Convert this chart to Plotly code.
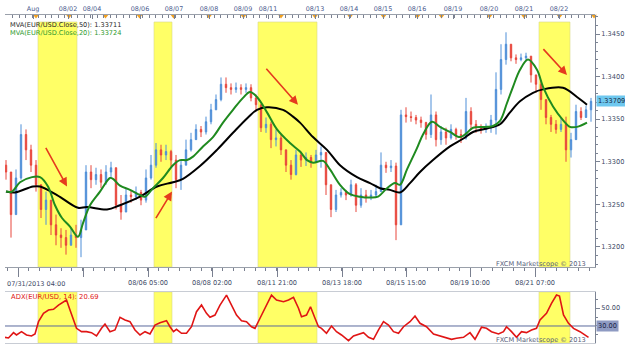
import plotly.graph_objects as go

# ---------------- data ----------------
FIRST_OPEN = 1.3296
CLOSE = [1.3288, 1.3238, 1.3281, 1.3332, 1.3314, 1.3296, 1.3273, 1.3244, 1.3255, 1.3226,
         1.3214, 1.3211, 1.3202, 1.3214, 1.3211, 1.3220, 1.3288, 1.3279, 1.3285, 1.3276,
         1.3288, 1.3293, 1.3249, 1.3241, 1.3261, 1.3259, 1.3264, 1.3255, 1.3281, 1.3296,
         1.3314, 1.3308, 1.3312, 1.3302, 1.3279, 1.3296, 1.3314, 1.3326, 1.3338, 1.3335,
         1.3347, 1.3361, 1.3373, 1.3391, 1.3387, 1.3385, 1.3387, 1.3385, 1.3387, 1.3375,
         1.3367, 1.3340, 1.3344, 1.3326, 1.3328, 1.3314, 1.3296, 1.3285, 1.3308, 1.3302,
         1.3305, 1.3299, 1.3308, 1.3311, 1.3273, 1.3244, 1.3261, 1.3264, 1.3261, 1.3273,
         1.3249, 1.3261, 1.3258, 1.3261, 1.3265, 1.3296, 1.3293, 1.3295, 1.3226, 1.3355,
         1.3353, 1.3352, 1.3349, 1.3346, 1.3332, 1.3355, 1.3326, 1.3335, 1.3328, 1.3338,
         1.3332, 1.3328, 1.3359, 1.3344, 1.3340, 1.3338, 1.3340, 1.3349, 1.3385, 1.3420,
         1.3438, 1.3422, 1.3420, 1.3422, 1.3424, 1.3402, 1.3391, 1.3373, 1.3352, 1.3344,
         1.3338, 1.3344, 1.3314, 1.3326, 1.3359, 1.3352, 1.3361, 1.3371]
HIGH = [1.3302, 1.3285, 1.3291, 1.3344, 1.3338, 1.3320, 1.3302, 1.3273, 1.3265, 1.3255,
        1.3238, 1.3222, 1.3220, 1.3222, 1.3226, 1.3232, 1.3296, 1.3296, 1.3293, 1.3291,
        1.3296, 1.3300, 1.3293, 1.3261, 1.3269, 1.3267, 1.3271, 1.3267, 1.3291, 1.3308,
        1.3322, 1.3320, 1.3320, 1.3314, 1.3308, 1.3302, 1.3326, 1.3334, 1.3344, 1.3342,
        1.3353, 1.3368, 1.3379, 1.3399, 1.3399, 1.3392, 1.3393, 1.3391, 1.3392, 1.3391,
        1.3379, 1.3367, 1.3352, 1.3347, 1.3338, 1.3332, 1.3314, 1.3302, 1.3314, 1.3312,
        1.3311, 1.3308, 1.3314, 1.3318, 1.3302, 1.3273, 1.3267, 1.3269, 1.3267, 1.3279,
        1.3275, 1.3269, 1.3267, 1.3267, 1.3273, 1.3311, 1.3300, 1.3302, 1.3299, 1.3361,
        1.3364, 1.3359, 1.3355, 1.3353, 1.3347, 1.3379, 1.3359, 1.3342, 1.3340, 1.3344,
        1.3340, 1.3338, 1.3375, 1.3364, 1.3349, 1.3344, 1.3345, 1.3355, 1.3405, 1.3438,
        1.3452, 1.3438, 1.3426, 1.3427, 1.3428, 1.3420, 1.3402, 1.3396, 1.3373, 1.3355,
        1.3349, 1.3352, 1.3353, 1.3334, 1.3367, 1.3364, 1.3366, 1.3375]
LOW = [1.3279, 1.3211, 1.3238, 1.3279, 1.3302, 1.3288, 1.3265, 1.3234, 1.3226, 1.3214,
       1.3202, 1.3199, 1.3191, 1.3202, 1.3199, 1.3188, 1.3220, 1.3269, 1.3273, 1.3269,
       1.3273, 1.3281, 1.3244, 1.3232, 1.3241, 1.3252, 1.3255, 1.3249, 1.3252, 1.3279,
       1.3293, 1.3300, 1.3302, 1.3294, 1.3269, 1.3267, 1.3296, 1.3312, 1.3326, 1.3329,
       1.3332, 1.3344, 1.3361, 1.3371, 1.3381, 1.3379, 1.3381, 1.3379, 1.3381, 1.3371,
       1.3359, 1.3335, 1.3334, 1.3316, 1.3318, 1.3308, 1.3288, 1.3279, 1.3284, 1.3294,
       1.3295, 1.3293, 1.3300, 1.3293, 1.3261, 1.3235, 1.3241, 1.3258, 1.3255, 1.3259,
       1.3241, 1.3246, 1.3252, 1.3255, 1.3258, 1.3265, 1.3287, 1.3288, 1.3208, 1.3226,
       1.3346, 1.3347, 1.3344, 1.3340, 1.3326, 1.3328, 1.3318, 1.3320, 1.3320, 1.3326,
       1.3326, 1.3322, 1.3326, 1.3338, 1.3334, 1.3333, 1.3334, 1.3334, 1.3332, 1.3379,
       1.3414, 1.3418, 1.3415, 1.3418, 1.3418, 1.3393, 1.3381, 1.3361, 1.3344, 1.3335,
       1.3333, 1.3335, 1.3300, 1.3305, 1.3326, 1.3349, 1.3352, 1.3347]

MA20_X = [0, 1.2, 2.8, 5.2, 6.8, 8.4, 9.8, 11.2, 12.8, 14.4, 15.4, 16.8, 18.8, 20.8, 21.4,
          22.8, 24.8, 26.8, 27.8, 29.4, 31.4, 33.4, 34.8, 36.2, 37.4, 39.4, 41.4, 43.4, 45.4,
          47.4, 48.8, 50.2, 52.2, 54.2, 56.8, 58.8, 60.2, 61.4, 63.4, 64.8, 66.8, 68.8, 70.8,
          72.8, 74.4, 76.2, 77.8, 78.8, 80.2, 82.2, 83.4, 85.2, 86.8, 88.8, 90.8, 92.2, 93.4,
          96.2, 97.4, 98.8, 100.2, 101.4, 102.8, 104.4, 106.2, 107.4, 109.4, 111.4, 112.8,
          114.2, 116.2]
MA20_V = [1.3265, 1.3265, 1.3276, 1.3282, 1.3282, 1.3271, 1.3249, 1.3234, 1.3224, 1.3212,
          1.3228, 1.3249, 1.3265, 1.3281, 1.3280, 1.3272, 1.3267, 1.3261, 1.3259, 1.3269,
          1.3281, 1.3296, 1.3302, 1.3302, 1.3306, 1.3318, 1.3329, 1.3346, 1.3361, 1.3375,
          1.3382, 1.3376, 1.3358, 1.3338, 1.3322, 1.3312, 1.3302, 1.3299, 1.3301, 1.3291,
          1.3273, 1.3262, 1.3259, 1.3258, 1.3259, 1.3269, 1.3275, 1.3273, 1.3291, 1.3316,
          1.3332, 1.3347, 1.3341, 1.3335, 1.3329, 1.3334, 1.3340, 1.3341, 1.3342, 1.3348,
          1.3369, 1.3388, 1.3408, 1.3420, 1.3408, 1.3388, 1.3365, 1.3349, 1.3341, 1.3341,
          1.3346]
MA50_X = [0, 1.8, 5.4, 6.8, 10.2, 14.4, 16.2, 20.2, 22.8, 26.8, 30.2, 33.4, 35.4, 38.8,
          42.2, 45.4, 48.4, 50.2, 52.2, 55.4, 57.4, 58.8, 61.4, 64.2, 66.8, 70.2, 72.8, 74.8,
          76.8, 78.8, 80.8, 82.8, 85.4, 88.8, 91.4, 93.4, 96.2, 98.8, 100.8, 102.8, 105.4,
          107.4, 111.4, 114.2, 116.2]
MA50_V = [1.3265, 1.3264, 1.3271, 1.3271, 1.3261, 1.3246, 1.3247, 1.3244, 1.3249, 1.3259,
          1.3271, 1.3276, 1.3280, 1.3295, 1.3314, 1.3334, 1.3352, 1.3361, 1.3364, 1.3361,
          1.3353, 1.3346, 1.3329, 1.3314, 1.3296, 1.3282, 1.3275, 1.3269, 1.3267, 1.3264,
          1.3275, 1.3288, 1.3302, 1.3318, 1.3327, 1.3335, 1.3339, 1.3344, 1.3358, 1.3371,
          1.3381, 1.3385, 1.3387, 1.3376, 1.3367]

ADX_X = [-0.2, 0.5, 1.5, 2.1, 3.1, 4.1, 5.1, 5.8, 6.5, 7.5, 8.5, 9.5, 10.5, 11.5, 12.1, 12.8,
         13.5, 14.1, 15.1, 16.1, 17.1, 18.1, 19.1, 19.8, 20.8, 21.8, 22.8, 23.8, 24.8, 25.8,
         26.8, 27.8, 28.8, 29.8, 30.8, 32.1, 32.8, 33.5, 34.1, 35.1, 36.1, 37.1, 38.1, 39.1,
         40.1, 40.8, 41.8, 42.8, 44.1, 45.1, 46.1, 47.1, 48.1, 49.1, 49.8, 50.8, 52.1, 53.1,
         54.1, 55.5, 56.5, 57.5, 58.5, 59.1, 60.1, 60.9, 61.8, 62.5, 63.1, 64.1, 65.1, 66.1,
         67.1, 68.5, 69.5, 70.5, 71.5, 72.5, 73.5, 74.5, 75.5, 76.5, 77.5, 78.5, 79.5, 80.8,
         81.8, 82.8, 84.1, 85.5, 86.8, 88.1, 89.1, 90.1, 91.5, 92.8, 93.8, 95.1, 96.1, 97.1,
         98.5, 99.5, 100.1, 101.1, 102.1, 103.1, 104.1, 105.1, 106.1, 106.8, 108.1, 109.1,
         110.1, 110.7, 111.5, 112.5, 113.5, 114.8, 116.1, 116.5]
ADX_V = [17.4, 16.7, 22.6, 20.0, 23.7, 20.0, 18.9, 21.1, 34.8, 44.1, 47.8, 48.6, 53.3, 57.0,
         58.9, 47.8, 36.7, 27.4, 23.7, 23.7, 22.6, 18.9, 27.4, 32.2, 23.7, 25.6, 39.7, 36.7,
         34.8, 25.6, 20.0, 23.7, 21.1, 31.1, 33.7, 35.9, 29.2, 23.7, 26.3, 21.9, 21.9, 29.2,
         45.9, 53.3, 44.1, 39.7, 42.2, 53.3, 64.4, 53.3, 42.2, 35.9, 34.8, 29.2, 27.4, 38.6,
         53.3, 64.4, 58.9, 57.0, 58.9, 61.9, 49.7, 40.3, 42.2, 51.4, 38.6, 29.2, 27.4, 21.9,
         30.0, 23.7, 20.0, 13.7, 18.9, 21.1, 22.6, 17.4, 15.2, 25.6, 34.8, 31.1, 23.7, 21.9,
         29.2, 34.8, 41.1, 33.0, 29.2, 21.1, 18.9, 17.4, 15.2, 16.3, 17.4, 22.6, 15.2, 28.6,
         27.4, 23.7, 21.1, 23.7, 29.2, 23.7, 17.4, 23.7, 22.6, 25.6, 27.4, 36.7, 44.1, 55.2,
         64.4, 63.3, 42.2, 33.0, 27.4, 23.7, 18.9, 17.4]
ADX_LEVEL = 30

# highlighted periods (bar index start, end)
HIGHLIGHTS = [(6.4, 14.2), (29.6, 33.2), (50.4, 62.2), (106.6, 112.8)]
# arrows: (tail x, tail price, head x, head price)
ARROWS = [(7.8, 1.3318, 12.2, 1.3271), (29.8, 1.3232, 33.2, 1.3265),
          (51.8, 1.3411, 58.4, 1.3367), (107.2, 1.3434, 112.2, 1.3402)]

TOP_TICKS = [5.4, 12.4, 17.2, 26.8, 33.6, 40.6, 47.4, 52.4, 61.8, 68.6, 75.4, 82.2, 89.4,
             96.6, 103.6, 110.6]
TOP_LABELS = ["Aug", "08/02", "08/04", "08/06", "08/07", "08/08", "08/09", "08/11", "08/13",
              "08/14", "08/15", "08/16", "08/19", "08/20", "08/21", "08/22"]
DAY_MARKS = [6.0, 12.6, 19.9, 26.7, 33.5, 40.6, 47.5, 55.0, 61.8, 68.8, 75.5, 82.3, 87.1,
             96.7, 103.6, 110.7, 117.6]
BOTTOM_TICKS = [2.4, 15.4, 28.4, 41.2, 54.2, 67.2, 80.0, 92.8, 105.8]
BOTTOM_LABELS = ["", "", "08/06 05:00", "08/08 02:00", "08/11 21:00", "08/13 18:00",
                 "08/15 15:00", "08/19 10:00", "08/21 07:00"]
FIRST_LABEL = "07/31/2013 04:00"
LAST_PRICE = 1.33709

# ---------------- build ----------------
n = len(CLOSE)
idx = list(range(n))
OPEN = [FIRST_OPEN] + CLOSE[:-1]
hi = [max(h, o, c) for h, o, c in zip(HIGH, OPEN, CLOSE)]
lo = [min(l, o, c) for l, o, c in zip(LOW, OPEN, CLOSE)]

UP = "#4f8fd8"
DN = "#e8473c"
FONT = "DejaVu Sans"
XR = [-0.2, 117.8]
XD = [0.008, 0.952]
YR = [1.31765, 1.34723]
MAIN_D = [0.2350, 0.9570]
ADX_D = [0.0172, 0.1633]

fig = go.Figure()
fig.add_trace(go.Candlestick(
    x=idx, open=OPEN, high=hi, low=lo, close=CLOSE,
    increasing=dict(line=dict(color=UP, width=1), fillcolor=UP),
    decreasing=dict(line=dict(color=DN, width=1), fillcolor=DN),
    whiskerwidth=0, showlegend=False, hoverinfo="skip"))
fig.add_trace(go.Scatter(x=MA50_X, y=MA50_V, mode="lines", line=dict(color="#000000", width=2, shape="spline"),
                         showlegend=False, hoverinfo="skip"))
fig.add_trace(go.Scatter(x=MA20_X, y=MA20_V, mode="lines", line=dict(color="#1f8a1f", width=2, shape="spline"),
                         showlegend=False, hoverinfo="skip"))
fig.add_trace(go.Scatter(x=XR, y=[ADX_LEVEL, ADX_LEVEL], mode="lines", xaxis="x2", yaxis="y2",
                         line=dict(color="#5b6a9c", width=1), showlegend=False, hoverinfo="skip"))
fig.add_trace(go.Scatter(x=ADX_X, y=ADX_V, mode="lines", xaxis="x2", yaxis="y2",
                         line=dict(color="#e01515", width=1.6), showlegend=False, hoverinfo="skip"))
# day markers on the top date axis (sitting on the axis line)
fig.add_trace(go.Scatter(x=DAY_MARKS, y=[YR[1] - 0.00012] * len(DAY_MARKS), mode="markers",
                         xaxis="x3", yaxis="y", cliponaxis=False,
                         marker=dict(symbol="triangle-down", size=5, color="#f0a020", line=dict(width=0)),
                         showlegend=False, hoverinfo="skip"))

shapes = []
for a, b in HIGHLIGHTS:
    for y0, y1 in [(MAIN_D[0], 0.937), ADX_D]:
        shapes.append(dict(type="rect", xref="x", yref="paper", x0=a, x1=b, y0=y0, y1=y1,
                           fillcolor="#ffff66", line=dict(width=0.6, color="#d9d98a"), layer="below"))

ann = []
for tx, ty, hx, hy in ARROWS:
    ann.append(dict(x=hx, y=hy, ax=tx, ay=ty, xref="x", yref="y", axref="x", ayref="y",
                    showarrow=True, arrowhead=2, arrowsize=1.1, arrowwidth=1.6,
                    arrowcolor="#e53a1e", text=""))
ann += [
    dict(x=0.013, y=0.929, xref="paper", yref="paper", xanchor="left", yanchor="middle", showarrow=False,
         text="MVA(EUR/USD.Close,50): 1.33711", font=dict(size=6.6, color="#2a2a2a", family=FONT)),
    dict(x=0.013, y=0.906, xref="paper", yref="paper", xanchor="left", yanchor="middle", showarrow=False,
         text="MVA(EUR/USD.Close,20): 1.33724", font=dict(size=6.6, color="#2e9a2e", family=FONT)),
    dict(x=0.015, y=0.149, xref="paper", yref="paper", xanchor="left", yanchor="middle", showarrow=False,
         text="ADX(EUR/USD, 14): 20.69", font=dict(size=6.8, color="#e01515", family=FONT)),
    dict(x=0.940, y=0.243, xref="paper", yref="paper", xanchor="right", yanchor="middle", showarrow=False,
         text="FXCM Marketscope © 2013", font=dict(size=6.6, color="#55607a", family=FONT)),
    dict(x=0.940, y=0.026, xref="paper", yref="paper", xanchor="right", yanchor="middle", showarrow=False,
         text="FXCM Marketscope © 2013", font=dict(size=6.6, color="#55607a", family=FONT)),
    dict(x=0.008, y=0.186, xref="paper", yref="paper", xanchor="left", yanchor="middle", showarrow=False,
         text=FIRST_LABEL, font=dict(size=6.5, color="#3d4a66", family=FONT)),
    dict(x=0.953, y=LAST_PRICE, xref="paper", yref="y", xanchor="left", yanchor="middle", showarrow=False,
         text="1.33709", bgcolor="#6ec8ef", borderpad=1, font=dict(size=6.6, color="#1a2a44", family=FONT)),
    dict(x=0.953, y=ADX_LEVEL, xref="paper", yref="y2", xanchor="left", yanchor="middle", showarrow=False,
         text="30.00", bgcolor="#8e9ac2", borderpad=1, font=dict(size=6.6, color="#1a2244", family=FONT)),
]

axis_font = dict(size=6.6, color="#3d4a66", family=FONT)
fig.update_layout(
    width=625, height=349, margin=dict(l=0, r=0, t=0, b=0),
    paper_bgcolor="white", plot_bgcolor="white", showlegend=False,
    font=dict(family=FONT), boxgap=0.6,
    shapes=shapes, annotations=ann,
    xaxis=dict(domain=XD, range=XR, anchor="y", showgrid=False, zeroline=False,
               showline=True, linecolor="#9aa0aa", linewidth=1,
               ticks="outside", ticklen=9, tickcolor="#7a8090", tickwidth=1,
               tickmode="array", tickvals=BOTTOM_TICKS, ticktext=BOTTOM_LABELS, tickfont=axis_font,
               minor=dict(ticks="outside", ticklen=3, tickcolor="#7a8090", tick0=2.4, dtick=2.155, showgrid=False),
               rangeslider=dict(visible=False), fixedrange=True),
    yaxis=dict(domain=MAIN_D, range=YR, anchor="x", side="right", showgrid=False,
               zeroline=False, showline=True, linecolor="#7c8494", linewidth=1,
               ticks="outside", ticklen=4, tickcolor="#7c8494", tick0=1.32, dtick=0.005,
               tickformat=".4f", tickfont=axis_font,
               minor=dict(ticks="outside", ticklen=2, tickcolor="#7c8494", dtick=0.001, showgrid=False)),
    xaxis2=dict(domain=XD, range=XR, anchor="y2", matches="x", showgrid=False, zeroline=False,
                showline=True, mirror=True, linecolor="#c8ccd4", showticklabels=False, ticks=""),
    yaxis2=dict(domain=ADX_D, range=[11.1, 67.8], anchor="x2", side="right", showgrid=False,
                zeroline=False, showline=True, linecolor="#7c8494",
                ticks="outside", ticklen=4, tickcolor="#7c8494",
                tickmode="array", tickvals=[50], ticktext=["50.00"], tickfont=axis_font,
                minor=dict(ticks="outside", ticklen=2, tickcolor="#7c8494", tick0=10, dtick=10)),
    xaxis3=dict(domain=XD, range=XR, overlaying="x", anchor="free", position=0.9599, side="top",
                showgrid=False, zeroline=False, showline=True, linecolor="#9aa0aa",
                ticks="inside", ticklen=4, tickcolor="#7a8090",
                tickmode="array", tickvals=TOP_TICKS, ticktext=TOP_LABELS,
                tickfont=dict(size=6.4, color="#4a5a8e", family=FONT),
                minor=dict(ticks="inside", ticklen=3, tickcolor="#7a8090", tick0=0, dtick=1.3, showgrid=False)),
)

fig.write_html("out.html")
